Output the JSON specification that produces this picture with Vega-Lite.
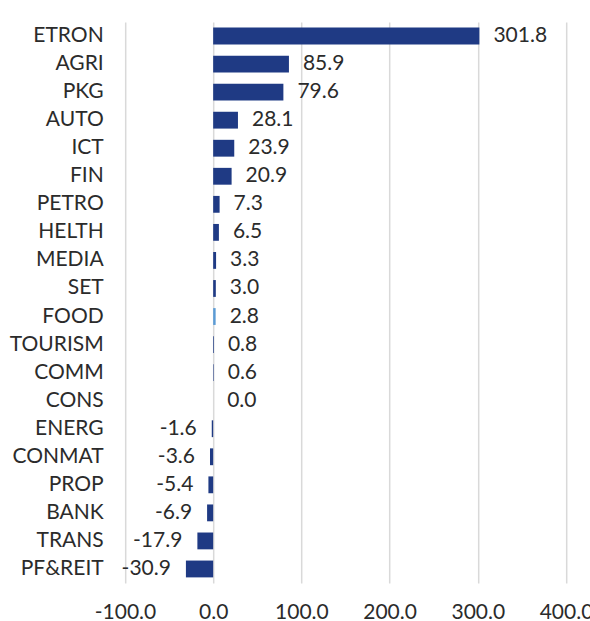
{
  "$schema": "https://vega.github.io/schema/vega-lite/v6.json",
  "autosize": {"type": "none"},
  "padding": {"left": 123.2, "top": 22, "right": 24, "bottom": 38},
  "width": 442.8,
  "height": 561,
  "background": "white",
  "config": {
    "view": {"stroke": null},
    "font": "Lato",
    "locale": {"number": {"decimal": ".", "thousands": ",", "grouping": [3], "currency": ["$", ""], "minus": "-"}}
  },
  "data": {
    "values": [
      {"sector": "ETRON", "value": 301.8, "group": "other"},
      {"sector": "AGRI", "value": 85.9, "group": "other"},
      {"sector": "PKG", "value": 79.6, "group": "other"},
      {"sector": "AUTO", "value": 28.1, "group": "other"},
      {"sector": "ICT", "value": 23.9, "group": "other"},
      {"sector": "FIN", "value": 20.9, "group": "other"},
      {"sector": "PETRO", "value": 7.3, "group": "other"},
      {"sector": "HELTH", "value": 6.5, "group": "other"},
      {"sector": "MEDIA", "value": 3.3, "group": "other"},
      {"sector": "SET", "value": 3.0, "group": "other"},
      {"sector": "FOOD", "value": 2.8, "group": "highlight"},
      {"sector": "TOURISM", "value": 0.8, "group": "other"},
      {"sector": "COMM", "value": 0.6, "group": "other"},
      {"sector": "CONS", "value": 0.0, "group": "other"},
      {"sector": "ENERG", "value": -1.6, "group": "other"},
      {"sector": "CONMAT", "value": -3.6, "group": "other"},
      {"sector": "PROP", "value": -5.4, "group": "other"},
      {"sector": "BANK", "value": -6.9, "group": "other"},
      {"sector": "TRANS", "value": -17.9, "group": "other"},
      {"sector": "PF&REIT", "value": -30.9, "group": "other"}
    ]
  },
  "encoding": {
    "y": {
      "field": "sector", "type": "nominal", "sort": null,
      "scale": {"paddingInner": 0.4, "paddingOuter": 0.2},
      "axis": {"title": null, "domain": false, "ticks": false, "grid": false, "labelPadding": 20, "labelFontSize": 21, "labelColor": "#2b2b2b", "labelFont": "Lato"}
    },
    "x": {
      "field": "value", "type": "quantitative",
      "scale": {"domain": [-102, 400], "nice": false, "zero": false},
      "axis": {"title": null, "values": [-100, 0, 100, 200, 300, 400], "format": ".1f", "domain": false, "ticks": false, "grid": true, "gridColor": "#d9d9d9", "gridWidth": 1.5, "labelFlush": false, "labelOverlap": false, "labelPadding": 18, "labelFontSize": 21, "labelColor": "#2b2b2b", "labelFont": "Lato"}
    }
  },
  "layer": [
    {
      "mark": {"type": "bar"},
      "encoding": {
        "x2": {"datum": 0},
        "color": {"field": "group", "type": "nominal", "scale": {"domain": ["other", "highlight"], "range": ["#1f3a84", "#5b9bd5"]}, "legend": null}
      }
    },
    {
      "transform": [{"filter": "datum.value >= 0"}],
      "mark": {"type": "text", "align": "left", "baseline": "middle", "dx": 14, "fontSize": 21, "color": "#2b2b2b", "font": "Lato"},
      "encoding": {"text": {"field": "value", "type": "quantitative", "format": ".1f"}}
    },
    {
      "transform": [{"filter": "datum.value < 0"}],
      "mark": {"type": "text", "align": "right", "baseline": "middle", "dx": -15, "fontSize": 21, "color": "#2b2b2b", "font": "Lato"},
      "encoding": {"text": {"field": "value", "type": "quantitative", "format": ".1f"}}
    }
  ]
}
